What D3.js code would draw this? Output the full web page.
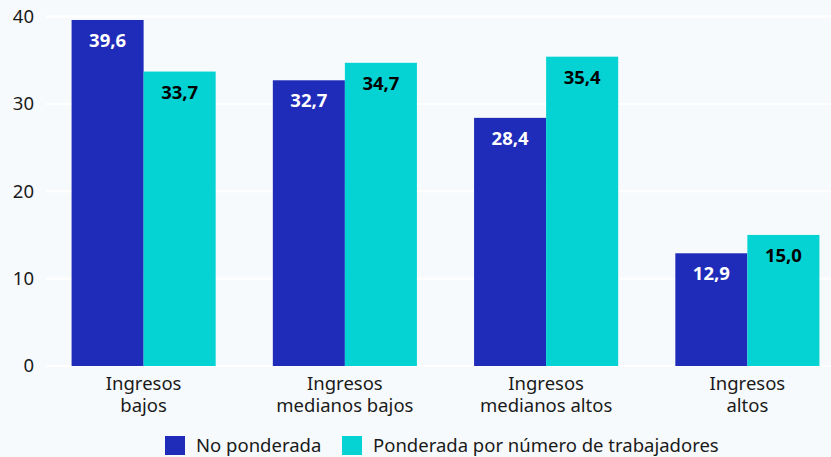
<!DOCTYPE html>
<html>
<head>
<meta charset="utf-8">
<script src="https://cdn.jsdelivr.net/npm/d3@7"></script>
<style>
  body { margin: 0; background: #f7fafd; }
  svg { display: block; font-family: "Noto Sans", sans-serif; }
</style>
</head>
<body>
<div id="graph"></div>
<script>
var width = 831, height = 457

var categories = [['Ingresos', 'bajos'], ['Ingresos', 'medianos bajos'], ['Ingresos', 'medianos altos'], ['Ingresos', 'altos']]
var seriesNames = ['No ponderada', 'Ponderada por número de trabajadores']
var noPonderada = [39.6, 32.7, 28.4, 12.9]
var ponderada = [33.7, 34.7, 35.4, 15.0]
var yTicks = [0, 10, 20, 30, 40]

var colors = ['#1f2bb9', '#05d3d3']
var labelColors = ['#ffffff', '#000000']
var fs = 18.5

var svg = d3.select('#graph').append('svg')
    .attr('width', width).attr('height', height)

var keys = categories.map(function(d){ return d.join(' ') })

var x = d3.scaleBand().domain(keys).range([43, 848])
    .paddingInner(0.284).paddingOuter(0.142)
var xs = d3.scaleBand().domain([0, 1]).range([0, x.bandwidth()])
var y = d3.scaleLinear().domain([0, 40]).range([366, 16.5])

// grid
svg.append('g').selectAll('line').data(yTicks).join('line')
    .attr('x1', 46).attr('x2', width)
    .attr('y1', function(d){ return y(d) }).attr('y2', function(d){ return y(d) })
    .attr('stroke', '#ffffff').attr('stroke-width', 2)

svg.append('g').selectAll('text').data(yTicks).join('text')
    .attr('x', 34).attr('y', function(d){ return y(d) })
    .attr('dy', '0.35em').attr('text-anchor', 'end')
    .attr('font-size', fs).attr('fill', '#1a1a1a')
    .text(function(d){ return d })

var fmt = function(v){ return v.toFixed(1).replace('.', ',') }

var series = [noPonderada, ponderada]
series.forEach(function(vals, s){
  var g = svg.append('g')
  g.selectAll('rect').data(vals).join('rect')
      .attr('x', function(d, i){ return x(keys[i]) + xs(s) })
      .attr('width', xs.bandwidth())
      .attr('y', function(d){ return y(d) })
      .attr('height', function(d){ return y(0) - y(d) })
      .attr('fill', colors[s])
  g.selectAll('text').data(vals).join('text')
      .attr('x', function(d, i){ return x(keys[i]) + xs(s) + xs.bandwidth() / 2 })
      .attr('y', function(d){ return y(d) + 27 })
      .attr('text-anchor', 'middle')
      .attr('font-size', fs).attr('font-weight', 'bold')
      .attr('fill', labelColors[s])
      .text(fmt)
})

// category labels
var cat = svg.append('g').selectAll('text').data(categories).join('text')
    .attr('text-anchor', 'middle').attr('font-size', fs).attr('fill', '#1a1a1a')
    .attr('transform', function(d, i){ return 'translate(' + (x(keys[i]) + x.bandwidth() / 2) + ',390)' })
cat.selectAll('tspan').data(function(d){ return d }).join('tspan')
    .attr('x', 0).attr('dy', function(d, i){ return i ? 22 : 0 })
    .text(function(d){ return d })

// legend
var legendX = [165, 342]
var leg = svg.append('g').selectAll('g').data(seriesNames).join('g')
    .attr('transform', function(d, i){ return 'translate(' + legendX[i] + ',436)' })
leg.append('rect').attr('width', 20).attr('height', 19)
    .attr('fill', function(d, i){ return colors[i] })
leg.append('text').attr('x', 31).attr('y', 9.5).attr('dy', '0.35em')
    .attr('font-size', fs).attr('fill', '#1a1a1a')
    .text(function(d){ return d })
</script>
</body>
</html>
